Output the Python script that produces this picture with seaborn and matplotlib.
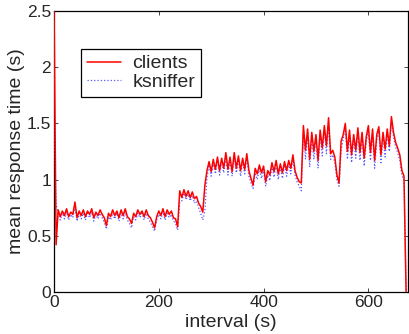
import numpy as np
import pandas as pd
import matplotlib
matplotlib.use("Agg")
import matplotlib.pyplot as plt
import seaborn as sns

interval = list(range(0, 673, 4))

clients = [
    2.60, 0.42,
    0.73, 0.67, 0.72, 0.68, 0.74, 0.67, 0.71, 0.69, 0.80, 0.66,
    0.72, 0.68, 0.73, 0.67, 0.72, 0.69, 0.74, 0.66, 0.71, 0.68,
    0.73, 0.69, 0.66, 0.59, 0.70, 0.67, 0.73, 0.68, 0.72, 0.66,
    0.73, 0.68, 0.74, 0.67, 0.65, 0.61, 0.70, 0.67, 0.73, 0.69,
    0.72, 0.67, 0.73, 0.68, 0.66, 0.62, 0.57, 0.67, 0.72, 0.68,
    0.74, 0.67, 0.73, 0.69, 0.72, 0.66, 0.65, 0.58,
    0.90, 0.84, 0.91, 0.85, 0.90, 0.84, 0.89, 0.83, 0.85, 0.79, 0.76, 0.71, 0.95,
    1.08, 1.16, 1.07, 1.18, 1.09, 1.20, 1.08, 1.19, 1.10, 1.24,
    1.09, 1.20, 1.07, 1.24, 1.10, 1.21, 1.08, 1.19, 1.09, 1.23,
    1.08, 1.01, 0.95, 1.10, 1.05, 1.13, 1.06, 1.12, 0.98, 1.08,
    1.04, 1.15, 1.07, 1.17, 1.05, 1.14, 1.06, 1.16, 1.08, 1.17,
    1.10, 1.22, 1.08, 1.02, 0.98, 0.97,
    1.48, 1.26, 1.45, 1.18, 1.42, 1.25, 1.40, 1.17, 1.44, 1.28,
    1.48, 1.30, 1.55, 1.23, 1.26, 1.20, 1.04, 0.97, 1.34,
    1.40, 1.50, 1.25, 1.44, 1.22, 1.40, 1.26, 1.46, 1.24, 1.42,
    1.19, 1.38, 1.48, 1.24, 1.45, 1.17, 1.40, 1.47, 1.22, 1.42,
    1.27, 1.45, 1.30, 1.56, 1.42, 1.33, 1.28, 1.22, 1.08, 1.03, 0.00,
]

ksniffer = [
    1.50, 0.78,
    0.70, 0.64, 0.70, 0.65, 0.71, 0.64, 0.69, 0.66, 0.76, 0.63,
    0.70, 0.65, 0.70, 0.64, 0.70, 0.66, 0.71, 0.63, 0.69, 0.65,
    0.70, 0.66, 0.62, 0.56, 0.67, 0.64, 0.70, 0.65, 0.70, 0.63,
    0.70, 0.65, 0.71, 0.64, 0.61, 0.57, 0.67, 0.64, 0.70, 0.66,
    0.70, 0.64, 0.70, 0.65, 0.62, 0.58, 0.54, 0.64, 0.69, 0.65,
    0.71, 0.64, 0.70, 0.66, 0.69, 0.63, 0.61, 0.55,
    0.80, 0.81, 0.88, 0.82, 0.87, 0.81, 0.86, 0.79, 0.81, 0.75, 0.70, 0.64, 0.72,
    1.02, 1.13, 1.03, 1.15, 1.05, 1.17, 1.04, 1.16, 1.06, 1.20,
    1.04, 1.17, 1.03, 1.21, 1.06, 1.18, 1.03, 1.16, 1.05, 1.20,
    1.03, 0.97, 0.92, 1.06, 1.00, 1.10, 1.01, 1.09, 0.94, 1.04,
    0.99, 1.12, 1.02, 1.14, 1.00, 1.11, 1.01, 1.13, 1.03, 1.14,
    1.05, 1.19, 1.04, 0.98, 0.94, 0.90,
    1.44, 1.18, 1.41, 1.11, 1.38, 1.18, 1.36, 1.10, 1.40, 1.21,
    1.44, 1.23, 1.50, 1.18, 1.22, 1.15, 1.00, 0.94, 1.26,
    1.36, 1.46, 1.18, 1.40, 1.15, 1.37, 1.19, 1.42, 1.17, 1.38,
    1.12, 1.34, 1.44, 1.17, 1.41, 1.10, 1.36, 1.43, 1.15, 1.38,
    1.20, 1.41, 1.25, 1.52, 1.38, 1.29, 1.24, 1.17, 1.04, 0.99, 0.00,
]

x_ticks = [0, 200, 400, 600]
y_ticks = [0, 0.5, 1, 1.5, 2, 2.5]
y_tick_labels = ["0", "0.5", "1", "1.5", "2", "2.5"]

sns.set_style("white")
plt.rcParams["font.family"] = ["Liberation Sans", "DejaVu Sans"]

df = pd.DataFrame({"interval": interval, "clients": clients, "ksniffer": ksniffer})

fig = plt.figure(figsize=(4.09, 3.34), dpi=100)
ax = fig.add_axes([0.132, 0.126, 0.866, 0.841])

sns.lineplot(data=df, x="interval", y="ksniffer", ax=ax, color="#5858ff",
             linestyle=":", linewidth=0.9, label="ksniffer", zorder=3)
sns.lineplot(data=df, x="interval", y="clients", ax=ax, color="red",
             linestyle="-", linewidth=1.1, label="clients", zorder=4)

ax.set_xlim(0, 676)
ax.set_ylim(0, 2.5)
ax.set_xticks(x_ticks)
ax.set_yticks(y_ticks)
ax.set_yticklabels(y_tick_labels)
ax.tick_params(direction="in", length=3, width=0.6, labelsize=12.5,
               top=True, right=True, bottom=True, left=True, pad=2)
for s in ax.spines.values():
    s.set_color("black")
    s.set_linewidth(0.9)
    s.set_zorder(2)

ax.set_xlabel("interval (s)", fontsize=14, labelpad=3)
ax.set_ylabel("mean response time (s)", fontsize=14, labelpad=1)

handles, labels = ax.get_legend_handles_labels()
order = [labels.index("clients"), labels.index("ksniffer")]
leg = ax.legend([handles[i] for i in order], [labels[i] for i in order],
                loc="upper left", bbox_to_anchor=(0.076, 0.865),
                fontsize=14, frameon=True, fancybox=False,
                edgecolor="black", framealpha=1, borderpad=0.3,
                handlelength=1.75, handletextpad=0.6, labelspacing=0.05,
                borderaxespad=0)
leg.get_frame().set_linewidth(0.9)
leg.set_zorder(6)

fig.savefig("out.png", dpi=100)
